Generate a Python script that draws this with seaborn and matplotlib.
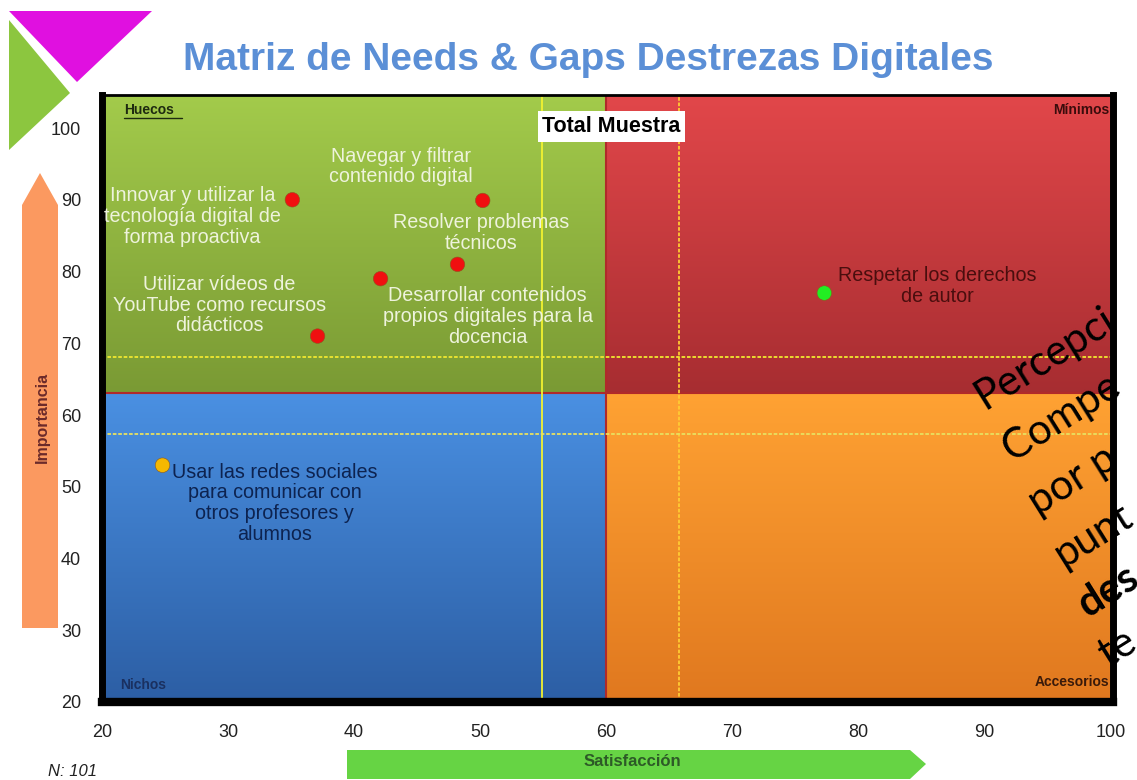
import numpy as np
import pandas as pd
import matplotlib
matplotlib.use("Agg")
import matplotlib.pyplot as plt
import seaborn as sns
from matplotlib.colors import LinearSegmentedColormap
from matplotlib.patches import Polygon

# ---------------- data ----------------
skills = [
    "Innovar y utilizar la\ntecnología digital de\nforma proactiva",
    "Navegar y filtrar\ncontenido digital",
    "Resolver problemas\ntécnicos",
    "Desarrollar contenidos\npropios digitales para la\ndocencia",
    "Utilizar vídeos de\nYouTube como recursos\ndidácticos",
    "Usar las redes sociales\npara comunicar con\notros profesores y\nalumnos",
    "Respetar los derechos\nde autor",
]
satisfaccion = [35.1, 50.2, 48.2, 42.1, 37.1, 24.8, 77.3]
importancia = [90.0, 89.9, 81.0, 79.0, 71.0, 53.0, 77.0]
cuadrante = ["Huecos", "Huecos", "Huecos", "Huecos", "Huecos", "Nichos", "Mínimos"]

split_x = 60.0          # satisfaction split of the quadrants
split_y = 63.0          # importance split of the quadrants
media_sat = 54.9        # solid vertical reference line
ref_sat = 65.8          # dotted vertical reference line
ref_imp_hi = 68.1       # dotted horizontal reference line
ref_imp_lo = 57.4       # lower horizontal reference line

x_ticks = [20, 30, 40, 50, 60, 70, 80, 90, 100]
y_ticks = [20, 30, 40, 50, 60, 70, 80, 90, 100]

# label offsets in pixels (style)
offsets = [(-100, -17), (-82, 34), (24, 31), (107, -38), (-98, 31), (112, -38), (113, 7)]
label_colors = ["#eef3dc"] * 5 + ["#0d2350", "#4a0e0e"]

df = pd.DataFrame({"Satisfacción": satisfaccion, "Importancia": importancia,
                   "Cuadrante": cuadrante, "Destreza": skills})

# ---------------- figure ----------------
sns.set_style("white")
plt.rcParams["font.family"] = ["Liberation Sans", "DejaVu Sans"]

W, H = 1137, 780
fig = plt.figure(figsize=(W / 100, H / 100), dpi=100)
ax = fig.add_axes([102 / W, 1 - 702 / H, (1113 - 102) / W, (702 - 95) / H])

xmin, xmax = 20, 100.2
ymin, ymax = 20, 104.6


def grad(ax, extent, top, bottom):
    cmap = LinearSegmentedColormap.from_list("g", [bottom, top])
    g = np.linspace(0, 1, 256).reshape(-1, 1)
    ax.imshow(g, extent=extent, origin="lower", aspect="auto", cmap=cmap, zorder=0)


grad(ax, [xmin, split_x, split_y, ymax], "#a3cb4b", "#7a9a34")
grad(ax, [split_x, xmax, split_y, ymax], "#e2474a", "#a72d31")
grad(ax, [xmin, split_x, ymin, split_y], "#4a90e2", "#2c5ea4")
grad(ax, [split_x, xmax, ymin, split_y], "#ffa233", "#e0781f")
ax.set_xlim(xmin, xmax)
ax.set_ylim(ymin, ymax)

# quadrant borders
ax.axhline(split_y, color="#b02a2a", lw=1.5, zorder=1)
ax.axvline(split_x, color="#b02a2a", lw=1.5, zorder=1)

# reference lines
ax.axvline(media_sat, color="#f2f230", lw=1.3, zorder=2)
ax.axvline(ref_sat, color="#ffcc33", lw=1.3, ls=(0, (2, 1)), zorder=2)
ax.axhline(ref_imp_hi, color="#f0e830", lw=1.3, ls=(0, (2, 1)), zorder=2)
ax.axhline(ref_imp_lo, color="#e8e060", lw=1.3, ls=(0, (2, 1)), zorder=2)

# points
palette = {"Huecos": "#f01010", "Nichos": "#f5b800", "Mínimos": "#22ee22"}
sns.scatterplot(data=df, x="Satisfacción", y="Importancia", hue="Cuadrante",
                palette=palette, s=110, edgecolor="#8a5a20", linewidth=0.4,
                legend=False, ax=ax, zorder=5)

for i, row in df.iterrows():
    ax.annotate(row["Destreza"], (row["Satisfacción"], row["Importancia"]),
                xytext=offsets[i], textcoords="offset pixels",
                ha="center", va="center", multialignment="center",
                fontsize=14.2, color=label_colors[i], linespacing=1.12, zorder=6)

# corner labels
ax.text(0.022, 0.975, "Huecos", transform=ax.transAxes, fontsize=10, fontweight="bold",
        color="#1e2a10", ha="left", va="center")
ax.plot([0.022, 0.079], [0.962, 0.962], transform=ax.transAxes, color="#1e2a10", lw=1)
ax.text(0.996, 0.975, "Mínimos", transform=ax.transAxes, fontsize=10, fontweight="bold",
        color="#3a0c0c", ha="right", va="center")
ax.text(0.018, 0.028, "Nichos", transform=ax.transAxes, fontsize=10, fontweight="bold",
        color="#1a3060", ha="left", va="center")
ax.text(0.996, 0.033, "Accesorios", transform=ax.transAxes, fontsize=10, fontweight="bold",
        color="#3a1a0a", ha="right", va="center")

ax.text(0.504, 0.948, "Total Muestra", transform=ax.transAxes, fontsize=15.5,
        fontweight="bold", color="black", ha="center", va="center", zorder=7,
        bbox=dict(boxstyle="square,pad=0.22", facecolor="white", edgecolor="none"))

# axes styling
ax.set_xticks(x_ticks)
ax.set_yticks(y_ticks)
ax.tick_params(axis="both", length=0, labelsize=13, colors="#222222")
ax.tick_params(axis="x", pad=16)
ax.tick_params(axis="y", pad=15)
ax.set_xlabel("")
ax.set_ylabel("")
for side, lw in [("left", 5), ("bottom", 6), ("right", 5), ("top", 2)]:
    ax.spines[side].set_visible(True)
    ax.spines[side].set_color("black")
    ax.spines[side].set_linewidth(lw)

# ---------------- decorations ----------------
def fx(px):
    return px / W


def fy(py):
    return 1 - py / H


# corner triangles
fig.patches.append(Polygon([(fx(9), fy(20)), (fx(70), fy(93)), (fx(9), fy(150))],
                           closed=True, transform=fig.transFigure, facecolor="#8cc63f",
                           edgecolor="none", zorder=1))
fig.patches.append(Polygon([(fx(9), fy(11)), (fx(152), fy(11)), (fx(77), fy(82))],
                           closed=True, transform=fig.transFigure, facecolor="#e010e0",
                           edgecolor="none", zorder=2))

# title
fig.text(fx(588), fy(60), "Matriz de Needs & Gaps Destrezas Digitales",
         ha="center", va="center", fontsize=28, fontweight="bold", color="#5b8fd6")

# importance arrow
fig.patches.append(Polygon([(fx(22), fy(628)), (fx(58), fy(628)), (fx(58), fy(205)),
                            (fx(40), fy(173)), (fx(22), fy(205))],
                           closed=True, transform=fig.transFigure, facecolor="#fb9960",
                           edgecolor="none", zorder=1))
fig.text(fx(42), fy(417), "Importancia", rotation=90, ha="center", va="center",
         fontsize=11.5, fontweight="bold", color="#6b2a2a")

# satisfaction arrow
fig.patches.append(Polygon([(fx(347), fy(750)), (fx(910), fy(750)), (fx(926), fy(764)),
                            (fx(910), fy(779)), (fx(347), fy(779))],
                           closed=True, transform=fig.transFigure, facecolor="#66d444",
                           edgecolor="none", zorder=1))
fig.text(fx(632), fy(762), "Satisfacción", ha="center", va="center",
         fontsize=12, fontweight="bold", color="#2d5a27")

fig.text(fx(48), fy(772), "N: 101", ha="left", va="center", fontsize=12,
         style="italic", color="#222222")

# overlaid rotated text at right edge
side_lines = [("Percepci", (985, 410), "normal"), ("Compe", (1012, 462), "normal"),
              ("por p", (1038, 516), "normal"), ("punt", (1063, 568), "normal"),
              ("des", (1088, 618), "bold"), ("te", (1108, 668), "normal")]
for txt, (px, py), wgt in side_lines:
    fig.text(fx(px), fy(py), txt, rotation=32, rotation_mode="anchor", ha="left",
             va="baseline", fontsize=30, fontweight=wgt, color="black",
             family=["Lato", "DejaVu Sans"], zorder=10)

fig.savefig("out.png", dpi=100)
